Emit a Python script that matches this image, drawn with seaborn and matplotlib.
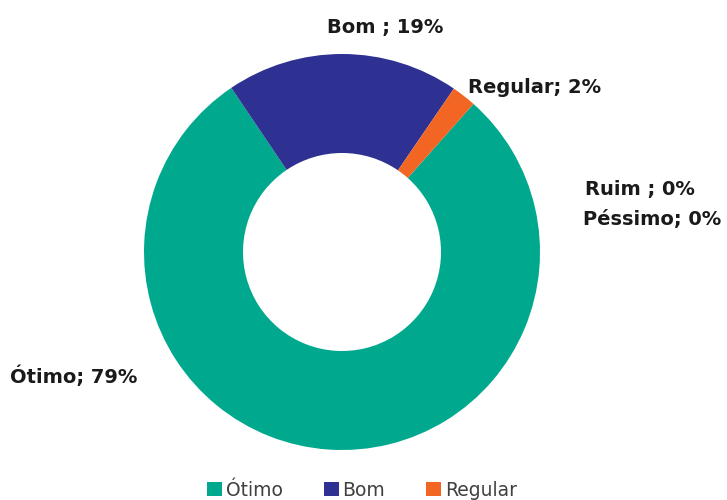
import matplotlib
matplotlib.use("Agg")
import matplotlib.pyplot as plt
import seaborn as sns

categories = ["Ótimo", "Bom", "Regular", "Ruim", "Péssimo"]
values = [79, 19, 2, 0, 0]
label_texts = ["Ótimo; 79%", "Bom ; 19%", "Regular; 2%", "Ruim ; 0%", "Péssimo; 0%"]
colors = ["#00A88D", "#2E3192", "#F26522", "#A5A5A5", "#FFC000"]

sns.set_theme(style="white")
plt.rcParams['font.family'] = ['DejaVu Sans']

W, H = 727, 500
fig = plt.figure(figsize=(W / 100, H / 100), dpi=100)
cx, cy, r = 342, 252, 198
ax = fig.add_axes([(cx - r) / W, (H - cy - r) / H, 2 * r / W, 2 * r / H])
wedges, _ = ax.pie(values, colors=colors, startangle=48.4, counterclock=False,
                   radius=1.0, wedgeprops=dict(width=0.5, linewidth=0))
ax.set_xlim(-1, 1)
ax.set_ylim(-1, 1)
ax.axis("off")

# label positions in pixels (x, y from top), horizontal alignment
label_pos = [(10, 376, "left"), (385, 27, "center"), (535, 88, "center"),
             (585, 190, "left"), (583, 220, "left")]
for txt, (x, y, ha) in zip(label_texts, label_pos):
    fig.text(x / W, 1 - y / H, txt, ha=ha, va="center", fontsize=14,
             fontweight="bold", color="#1a1a1a")

leg = fig.legend(wedges[:3], categories[:3], loc="center", bbox_to_anchor=(362 / W, 1 - 490 / H),
                 ncol=3, frameon=False, fontsize=13.5, handlelength=0.8, handleheight=0.8,
                 handletextpad=0.2, columnspacing=2.2, borderpad=0)
for t in leg.get_texts():
    t.set_color("#404040")

fig.savefig("out.png", dpi=100)
